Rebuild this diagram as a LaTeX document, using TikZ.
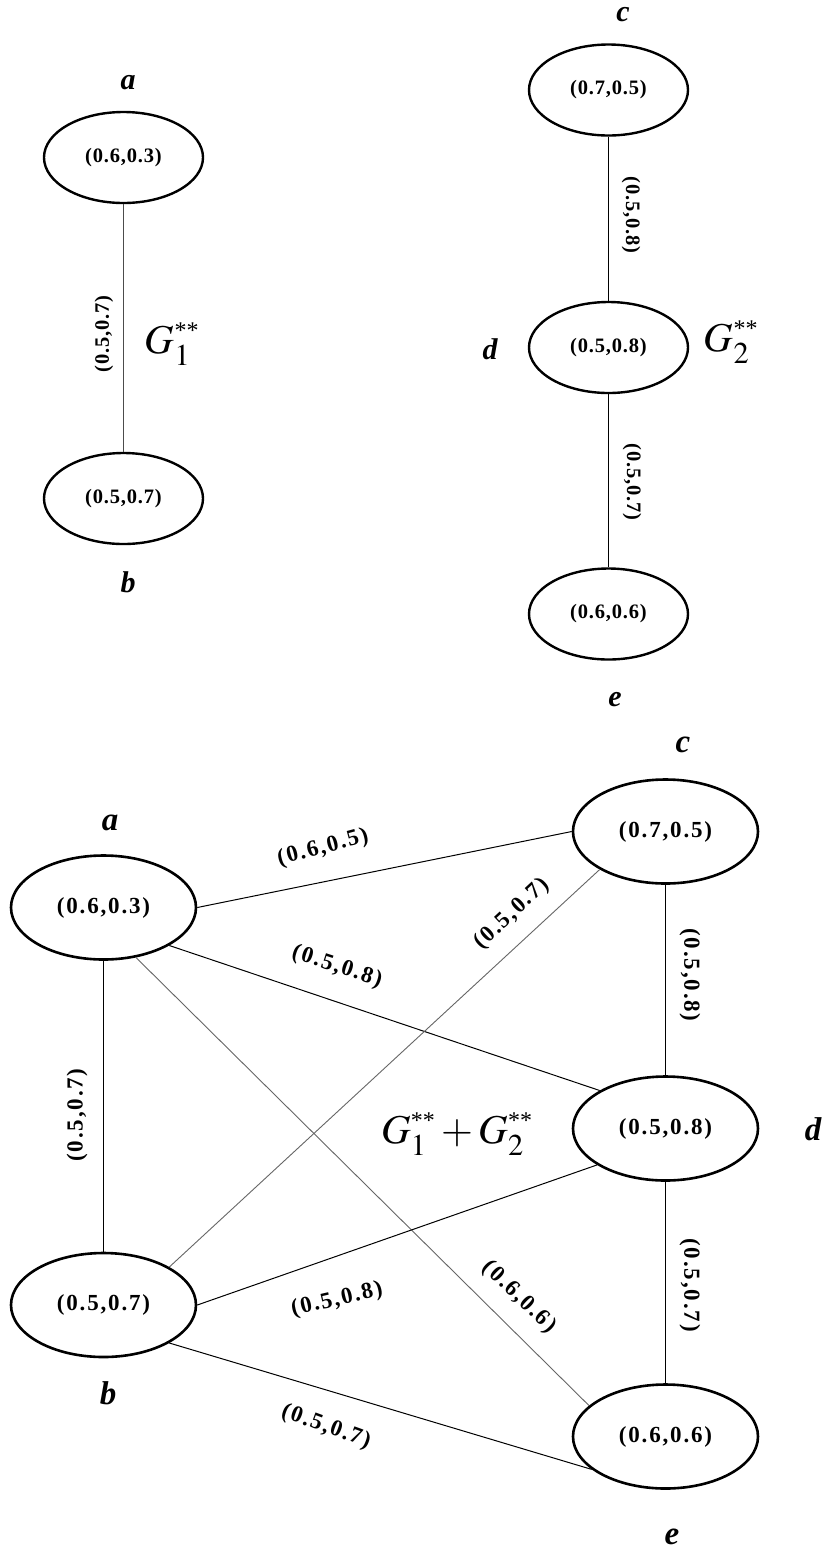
\documentclass[tikz,border=0pt]{standalone}
\usepackage{mathptmx}
\usepackage{fontspec}
\setmainfont{Liberation Serif}
\newfontfamily\lblA{Liberation Serif}[LetterSpace=4]
\newfontfamily\lblB{Liberation Serif}[LetterSpace=8]
\newcommand{\stars}[1]{\mbox{\fontsize{#1}{#1}\selectfont **}}
\usetikzlibrary{shapes.geometric}
\begin{document}
\begin{tikzpicture}[x=1pt,y=-1pt,
  vt/.style={ellipse,draw,line width=2.4pt,minimum width=159pt,minimum height=91pt,inner sep=0pt,
    font=\lblA\fontsize{20.5}{22}\selectfont\bfseries},
  vb/.style={ellipse,draw,line width=2.6pt,minimum width=185pt,minimum height=104pt,inner sep=0pt,
    font=\lblB\fontsize{23}{25}\selectfont\bfseries},
  edge/.style={line width=1pt,black},
  lightedge/.style={line width=0.9pt,black!60},
  lt/.style={font=\lblA\fontsize{20.5}{22}\selectfont\bfseries,inner sep=0pt},
  lb/.style={font=\lblB\fontsize{23}{25}\selectfont\bfseries,inner sep=0pt},
  vnt/.style={font=\fontsize{30}{32}\selectfont\bfseries\itshape,inner sep=0pt},
  vnb/.style={font=\fontsize{33}{35}\selectfont\bfseries\itshape,inner sep=0pt},
  gname/.style={font=\fontsize{41}{44}\selectfont,inner sep=0pt}
]
\useasboundingbox[fill=white] (0,0) rectangle (826,1551);

% ---------- G1** ----------
\node[vt] (ta) at (123.5,157.5) {(0.6,0.3)};
\node[vt] (tb) at (123.5,498.5) {(0.5,0.7)};
\node[vnt] (tla) at (128,83) {a};
\node[vnt] (tlb) at (128,582) {b};
\draw[line width=1pt,black!70] (ta) -- (tb);
\node[lt,rotate=90] (tlab) at (104,334) {(0.5,0.7)};
\node[gname] (g1) at (172,344) {$G_1^{\stars{24}}$};

% ---------- G2** ----------
\node[vt] (tc) at (608.5,90) {(0.7,0.5)};
\node[vt] (td) at (608.5,347.5) {(0.5,0.8)};
\node[vt] (te) at (608.5,614) {(0.6,0.6)};
\node[vnt] (tlc) at (623,15) {c};
\node[vnt] (tld) at (490,349) {d};
\node[vnt] (tle) at (615,700) {e};
\draw[edge] (tc) -- (td);
\draw[edge] (td) -- (te);
\node[lt,rotate=-90] (tlcd) at (631,215) {(0.5,0.8)};
\node[lt,rotate=-90] (tlde) at (632,482) {(0.5,0.7)};
\node[gname] (g2) at (731,342) {$G_2^{\stars{24}}$};

% ---------- G1** + G2** ----------
\node[vb] (a) at (103.5,907.5) {(0.6,0.3)};
\node[vb] (c) at (665.5,831.5) {(0.7,0.5)};
\node[vb] (d) at (665.5,1128.5) {(0.5,0.8)};
\node[vb] (b) at (103.5,1305) {(0.5,0.7)};
\node[vb] (e) at (665.5,1436.5) {(0.6,0.6)};
\node[vnb] (la) at (110,823) {a};
\node[vnb] (lc) at (683,745) {c};
\node[vnb] (ld) at (813,1129) {d};
\node[vnb] (lb) at (108,1393) {b};
\node[vnb] (le) at (672,1537) {e};

\draw[edge] (a.0) -- (c.180);
\draw[edge] (a.-30) -- (d.150);
\draw[lightedge] (a.-57) -- (e.158.7);
\draw[edge] (a.south) -- (b.north);
\draw[lightedge] (b.30) -- (c.210);
\draw[edge] (b.0) -- (d.208.7);
\draw[edge] (b.-30) -- (e.204);
\draw[edge] (c.south) -- (d.north);
\draw[edge] (d.south) -- (e.north);

\node[lb,rotate=15] (lac) at (323,848) {(0.6,0.5)};
\node[lb,rotate=-18] (lad) at (337,967) {(0.5,0.8)};
\node[lb,rotate=43] (lbc) at (512,914) {(0.5,0.7)};
\node[lb,rotate=-90] (lcd) at (690,975) {(0.5,0.8)};
\node[lb,rotate=90] (lab) at (77,1115) {(0.5,0.7)};
\node[lb,rotate=13] (lbd) at (337,1300) {(0.5,0.8)};
\node[lb,rotate=-44] (lae) at (519,1297) {(0.6,0.6)};
\node[lb,rotate=-90] (lde) at (690,1285) {(0.5,0.7)};
\node[lb,rotate=-20] (lbe) at (326,1427) {(0.5,0.7)};
\node[gname] (gsum) at (457,1134) {$G_1^{\stars{24}}+G_2^{\stars{24}}$};
\end{tikzpicture}
\end{document}
